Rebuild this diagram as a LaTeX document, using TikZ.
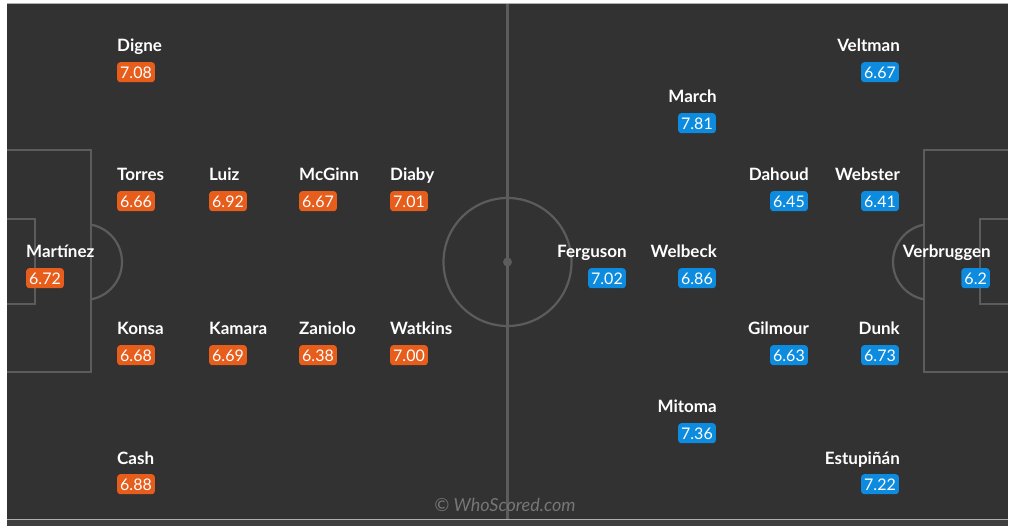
\documentclass[tikz,border=0pt]{standalone}
\usepackage{fontspec}
\setmainfont{Lato}
\usepackage{xcolor}
\usepackage{tikz}
\usetikzlibrary{positioning}

\definecolor{pitchbg}{RGB}{50,50,50}
\definecolor{pitchline}{RGB}{92,92,92}
\definecolor{stripgray}{RGB}{62,62,62}
\definecolor{edgegray}{RGB}{175,175,175}
\definecolor{markgray}{RGB}{118,118,118}
\definecolor{homeorange}{RGB}{230,93,28}
\definecolor{awayblue}{RGB}{13,139,222}

\tikzset{
  pitch line/.style={draw=pitchline, line width=2.2pt},
  player name/.style={inner sep=0pt, text=white,
    font=\fontsize{17pt}{20pt}\selectfont\bfseries},
  rating/.style={inner xsep=3pt, inner ysep=4pt, text height=12pt, text depth=0pt,
    rounded corners=3pt, text=white, font=\fontsize{16pt}{19pt}\selectfont},
  home rating/.style={rating, fill=homeorange},
  away rating/.style={rating, fill=awayblue}
}

\begin{document}
\begin{tikzpicture}[x=1pt, y=-1pt]

\useasboundingbox [fill=white] (0,0) rectangle (1012,526);
\fill [pitchbg] (7,4) rectangle (1008,519);
\fill [stripgray] (7,519) rectangle (1008,526);
\draw [edgegray, line width=1pt] (7,3.5) -- (1008,3.5);
\draw [edgegray, line width=1.2pt] (7,519.5) -- (1008,519.5);

% pitch markings
\draw [pitch line] (507.5,4) -- (507.5,519);
\draw [pitch line] (507.5,262) circle (64);
\fill [pitchline] (507.5,262) circle (4.5);
\draw [pitch line] (7,150) -- (91,150) -- (91,372) -- (7,372);
\draw [pitch line] (7,219) -- (35,219) -- (35,304) -- (7,304);
\draw [pitch line] (1008,150) -- (924,150) -- (924,372) -- (1008,372);
\draw [pitch line] (1008,219) -- (980,219) -- (980,304) -- (1008,304);
\begin{scope}
  \clip (91,0) rectangle (500,526);
  \draw [pitch line] (84,262) circle (38);
\end{scope}
\begin{scope}
  \clip (515,0) rectangle (924,526);
  \draw [pitch line] (931,262) circle (38);
\end{scope}

\node [text=markgray, font=\fontsize{18pt}{21pt}\selectfont\itshape, inner sep=0pt,
  anchor=base] (watermark) at (505,511) {© WhoScored.com};

% home team
\foreach \n/\r/\x/\y [count=\i] in {Digne/7.08/117/46, Torres/6.66/117/175,
    Luiz/6.92/209/175, McGinn/6.67/299/175, Diaby/7.01/390/175,
    Martínez/6.72/26/252, Konsa/6.68/117/329, Kamara/6.69/209/329,
    Zaniolo/6.38/299/329, Watkins/7.00/390/329, Cash/6.88/117/458}
{
  \node [player name, anchor=base west] (home-\i) at (\x,\y+6) {\n};
  \node [home rating, anchor=north west] (home-rating-\i) at (\x,\y+16) {\r};
}

% away team
\foreach \n/\r/\x/\y [count=\i] in {Veltman/6.67/900/46, March/7.81/717/97,
    Dahoud/6.45/809/175, Webster/6.41/900/175, Ferguson/7.02/627/252,
    Welbeck/6.86/717/252, Verbruggen/6.2/991/252, Gilmour/6.63/809/329,
    Dunk/6.73/900/329, Mitoma/7.36/717/407, Estupiñán/7.22/900/458}
{
  \node [player name, anchor=base east] (away-\i) at (\x,\y+6) {\n};
  \node [away rating, anchor=north east] (away-rating-\i) at (\x-1,\y+16) {\r};
}
\end{tikzpicture}
\end{document}
